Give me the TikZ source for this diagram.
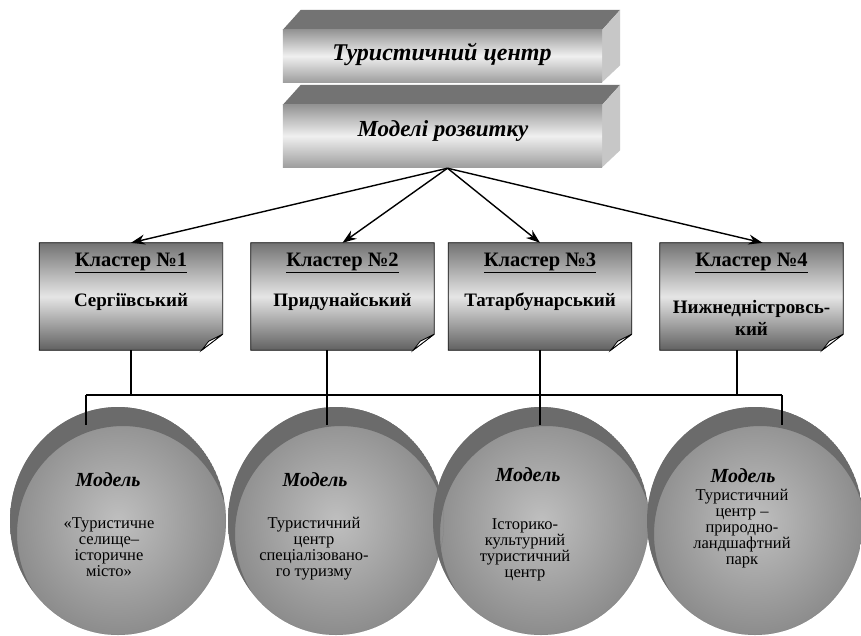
\documentclass[tikz,border=0pt]{standalone}
\usepackage{fontspec}
\setmainfont{Liberation Serif}
\usetikzlibrary{shapes.geometric,arrows.meta,calc}
\tikzset{
  slab/.style={rectangle, minimum width=319pt, minimum height=52pt, inner sep=0pt},
  slabfront/.style={top color=black!42, bottom color=black!38, middle color=black!6},
  slabtop/.style={fill=black!55},
  slabside/.style={fill=black!22},
  toptext/.style={font=\fontsize{24}{28}\selectfont\bfseries\itshape},
  clusterbox/.style={rectangle, minimum width=183pt, minimum height=107pt, inner sep=0pt},
  boxshade/.style={top color=black!55, bottom color=black!62, middle color=black!10},
  ctitle/.style={font=\fontsize{20.5}{23}\selectfont\bfseries},
  cname/.style={font=\fontsize{19}{22}\selectfont\bfseries, align=center},
  model/.style={ellipse, minimum width=216pt, minimum height=228pt, inner sep=0pt,
    inner color=black!25, outer color=black!45},
  mtitle/.style={font=\fontsize{20}{22}\selectfont\bfseries\itshape},
  mbody/.style={font=\fontsize{16.5}{16}\selectfont, align=center},
  arr/.style={-{Stealth[length=14pt,width=10pt]}, line width=1.4pt},
  conn/.style={line width=1.4pt}
}
\newcommand{\slabfaces}[1]{%
  \fill[slabtop] (#1.north west) -- ($(#1.north west)+(18,-20)$) -- ($(#1.north east)+(18,-20)$) -- (#1.north east) -- cycle;
  \fill[slabside] (#1.north east) -- ($(#1.north east)+(18,-20)$) -- ($(#1.south east)+(18,-17)$) -- (#1.south east) -- cycle;
  \shade[slabfront] (#1.south west) rectangle (#1.north east);}
\newcommand{\dogear}[1]{%
  \shade[boxshade, draw=black, line width=0.8pt] (#1.north west) -- (#1.north east) -- ($(#1.south east)+(0,-16)$) -- ($(#1.south east)+(-21,0)$) -- (#1.south west) -- cycle;
  \filldraw[fill=white, draw=black, line width=0.8pt] ($(#1.south east)+(0,-16)$) -- ($(#1.south east)+(-21,0)$) -- ($(#1.south east)+(-14,-9)$) -- cycle;}
\newcommand{\capof}[1]{%
  \begin{scope}
    \clip (#1.center) ellipse [x radius=108pt, y radius=114pt];
    \fill[black!58, even odd rule] (#1.center) ellipse [x radius=108pt, y radius=114pt]
      ($(#1.center)+(5,13)$) ellipse [x radius=106pt, y radius=108pt];
  \end{scope}}
\begin{document}
\begin{tikzpicture}[x=1pt, y=-1pt]
\useasboundingbox[fill=white] (0,0) rectangle (861,635);

% top slabs
\node[slab] (tc) at (442.5,56) {};
\node[slab, minimum height=62pt] (mr) at (442.5,136) {};
\slabfaces{tc}
\slabfaces{mr}
\node[toptext] (tct) at (442,54) {Туристичний центр};
\node[toptext, font=\fontsize{23}{27}\selectfont\bfseries\itshape] (mrt) at (443,131) {Моделі розвитку};

% cluster boxes
\node[clusterbox] (c1) at (131,296.5) {};
\node[clusterbox] (c2) at (342.5,296.5) {};
\node[clusterbox] (c3) at (540,296.5) {};
\node[clusterbox] (c4) at (751.5,296.5) {};
\dogear{c1}\dogear{c2}\dogear{c3}\dogear{c4}
\node[ctitle] (c1t) at ($(c1.north)+(0,20)$) {\underline{Кластер №1}};
\node[ctitle] (c2t) at ($(c2.north)+(0,20)$) {\underline{Кластер №2}};
\node[ctitle] (c3t) at ($(c3.north)+(0,20)$) {\underline{Кластер №3}};
\node[ctitle] (c4t) at ($(c4.north)+(0,20)$) {\underline{Кластер №4}};
\node[cname] (c1n) at ($(c1.north)+(0,59)$) {Сергіївський};
\node[cname] (c2n) at ($(c2.north)+(0,59)$) {Придунайський};
\node[cname] (c3n) at ($(c3.north)+(0,59)$) {Татарбунарський};
\node[cname] (c4n) at ($(c4.north)+(0,75)$) {Нижнедністровсь-\\кий};

% arrows
\coordinate (hub) at ($(mr.south)+(5,1)$);
\coordinate (c4in) at ($(c4.north)+(11,0)$);
\draw[arr] (hub) -- (c1.north);
\draw[arr] (hub) -- (c2.north);
\draw[arr] (hub) -- (c3.north);
\draw[arr] (hub) -- (c4in);

% model circles
\node[model] (m1) at (118,521) {};
\node[model] (m2) at (336,521) {};
\node[model] (m3) at (541,521) {};
\node[model] (m4) at (755,521) {};
\capof{m1}\capof{m2}\capof{m3}\capof{m4}

% connectors
\coordinate (b1) at (86,395);
\coordinate (b4) at (782,395);
\coordinate (d1) at (86,425);
\coordinate (d2) at (327,425);
\coordinate (d3) at (540,425);
\coordinate (d4) at (782,425);
\coordinate (u2) at ($(c2.south)+(-15.5,0)$);
\coordinate (u4) at ($(c4.south)+(-14.5,0)$);
\draw[conn] (b1) -- (b4);
\draw[conn] (c1.south) -- (c1.south |- b1);
\draw[conn] (u2) -- (d2);
\draw[conn] (c3.south) -- (d3);
\draw[conn] (u4) -- (u4 |- b4);
\draw[conn] (b1) -- (d1);
\draw[conn] (b4) -- (d4);

% model texts
\node[mtitle] (m1a) at (108,480) {Модель};
\node[mbody] (m1b) at (109,547) {«Туристичне\\селище–\\історичне\\місто»};
\node[mtitle] (m2a) at (315,480) {Модель};
\node[mbody] (m2b) at (314,549) {Туристичний\\центр\\спеціалізовано-\\го туризму};
\node[mtitle] (m3a) at (528,475) {Модель};
\node[mbody] (m3b) at (525,550) {Історико-\\культурний\\туристичний\\центр};
\node[mtitle] (m4a) at (743,476) {Модель};
\node[mbody, anchor=north] (m4b) at (742,486) {Туристичний\\центр –\\природно-\\ландшафтний\\парк};
\end{tikzpicture}
\end{document}
